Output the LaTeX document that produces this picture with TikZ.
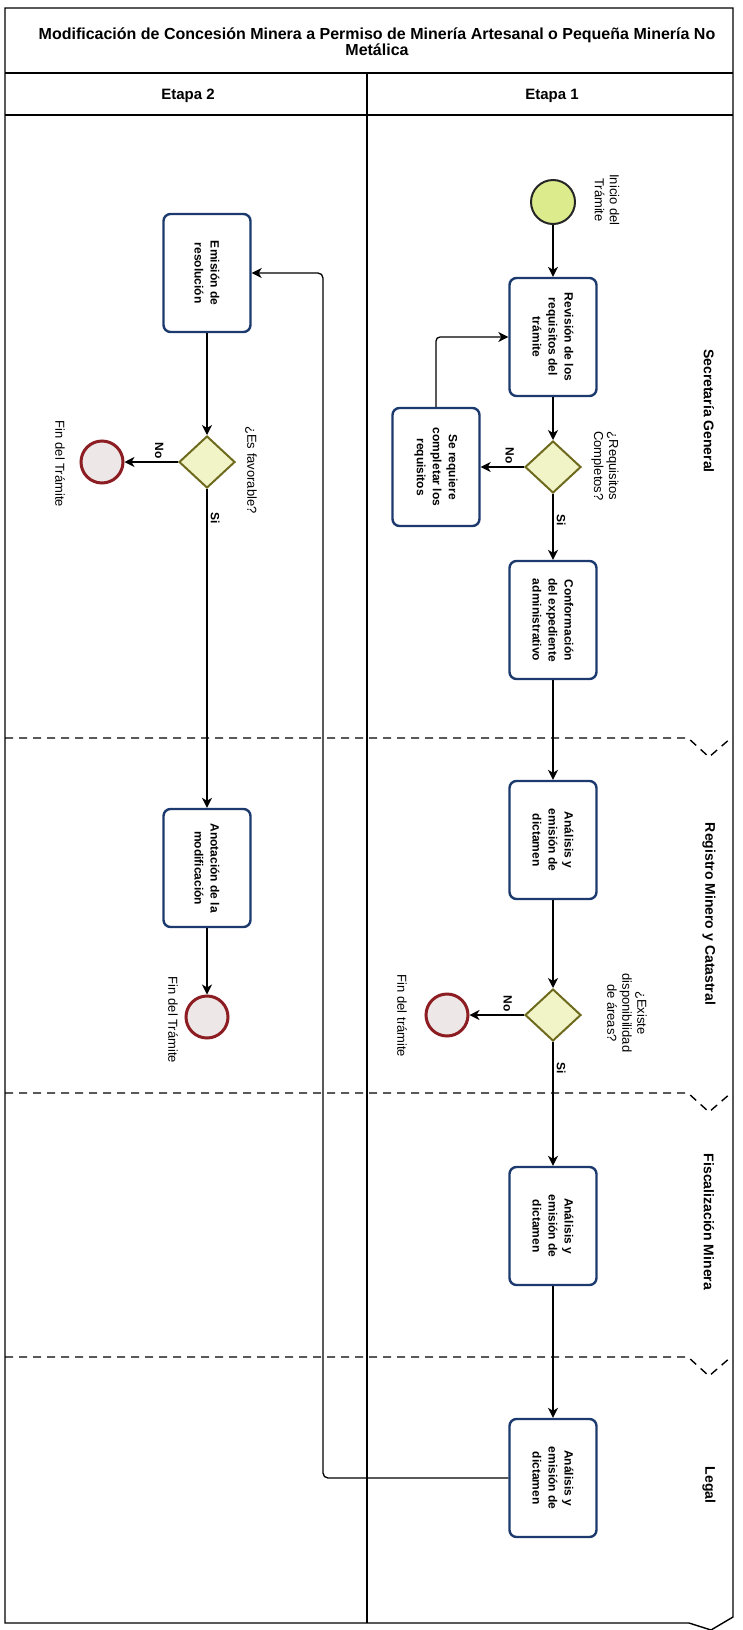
\documentclass[tikz,border=0pt]{standalone}
\usepackage{fontspec}
\setmainfont{Liberation Sans}
\usetikzlibrary{shapes.geometric, arrows.meta}
\definecolor{azultarea}{HTML}{1C3A6E}
\definecolor{rellenocompuerta}{HTML}{F1F4C6}
\definecolor{bordecompuerta}{HTML}{6E6A1E}
\definecolor{rellenoinicio}{HTML}{DCEB8C}
\definecolor{rellenofin}{HTML}{EEE7E7}
\definecolor{bordefin}{HTML}{8C1D22}
\tikzstyle{tarea} = [rectangle, draw=azultarea, line width=2.4pt, rounded corners=7pt, fill=white, rotate=-90, minimum width=118pt, minimum height=87pt, align=center, font=\bfseries\fontsize{12}{16}\selectfont]
\tikzstyle{compuerta} = [diamond, draw=bordecompuerta, line width=2pt, fill=rellenocompuerta, minimum width=56pt, minimum height=52pt, inner sep=0pt]
\tikzstyle{inicio} = [circle, draw=black!85, line width=2pt, fill=rellenoinicio, minimum size=44pt, inner sep=0pt]
\tikzstyle{fin} = [circle, draw=bordefin, line width=3pt, fill=rellenofin, minimum size=42pt, inner sep=0pt]
\tikzstyle{etiqueta} = [rotate=-90, align=center, font=\fontsize{13}{15}\selectfont, inner sep=1pt]
\tikzstyle{carril} = [rotate=-90, font=\bfseries\fontsize{14}{16}\selectfont]
\tikzstyle{rama} = [rotate=-90, font=\bfseries\fontsize{12}{14}\selectfont, inner sep=3pt]
\tikzstyle{arrow} = [line width=1.3pt, -{Stealth[length=10pt, width=10pt, inset=3pt]}]
\tikzstyle{marco} = [line width=1.4pt]
\tikzstyle{separador} = [line width=1.4pt, dash pattern=on 8pt off 6pt]
\begin{document}
\begin{tikzpicture}[x=1pt, y=-1pt]
\useasboundingbox (0,0) rectangle (742,1630);
% marco, encabezado y etapas
\draw [marco] (5,8) -- (733,8) -- (733,1617) -- (711,1630) -- (689,1623) -- (5,1623) -- cycle;
\draw [marco] (5,73) -- (733,73);
\draw [marco] (5,115) -- (733,115);
\draw [marco] (367,73) -- (367,1623);
\node [font=\bfseries\fontsize{16}{16}\selectfont, align=center] at (377,42) (titulo)
	{Modificación de Concesión Minera a Permiso de Minería Artesanal o Pequeña Minería No\\Metálica};
\node [font=\bfseries\fontsize{15}{16}\selectfont] at (188,96) (etapa_dos) {Etapa 2};
\node [font=\bfseries\fontsize{15}{16}\selectfont] at (552,96) (etapa_uno) {Etapa 1};
% carriles
\foreach \y in {738,1093,1357}
	\draw [separador] (5,\y) -- (688,\y) -- (709,\y+19) -- (731,\y);
\node [carril] at (709,411) (secretaria) {Secretaría General};
\node [carril] at (709,914) (registro) {Registro Minero y Catastral};
\node [carril] at (709,1222) (fiscalizacion) {Fiscalización Minera};
\node [carril] at (709,1485) (legal) {Legal};
% etapa 1
\node [inicio] at (553,202) (inicio_tramite) {};
\node [etiqueta] at (607,200) (lbl_inicio) {Inicio del\\Trámite};
\node [tarea] at (553,337) (revision) {Revisión de los\\requisitos del\\trámite};
\node [compuerta] at (553,467) (requisitos_ok) {};
\node [etiqueta] at (605,466) (lbl_requisitos) {¿Requisitos\\Completos?};
\node [tarea] at (436,467) (completar) {Se requiere\\completar los\\requisitos};
\node [tarea] at (553,620) (conformacion) {Conformación\\del expediente\\administrativo};
\node [tarea] at (553,840) (analisis_registro) {Análisis y\\emisión de\\dictamen};
\node [compuerta] at (553,1015) (areas_ok) {};
\node [etiqueta] at (627,1013) (lbl_areas) {¿Existe\\disponibilidad\\de áreas?};
\node [fin] at (447,1015) (fin_areas) {};
\node [etiqueta] at (402,1016) (lbl_fin_areas) {Fin del trámite};
\node [tarea] at (553,1226) (analisis_fiscal) {Análisis y\\emisión de\\dictamen};
\node [tarea] at (553,1478) (analisis_legal) {Análisis y\\emisión de\\dictamen};
% etapa 2
\node [tarea] at (207,273) (emision) {Emisión de\\resolución};
\node [compuerta] at (207,462) (favorable) {};
\node [etiqueta] at (251,470) (lbl_favorable) {¿Es favorable?};
\node [fin] at (102,462) (fin_favorable) {};
\node [etiqueta] at (60,464) (lbl_fin_favorable) {Fin del Trámite};
\node [tarea] at (207,868) (anotacion) {Anotación de la\\modificación};
\node [fin] at (207,1017) (fin_anotacion) {};
\node [etiqueta] at (173,1020) (lbl_fin_anotacion) {Fin del Trámite};
\coordinate (retorno) at (323,273);
% flujos
\draw [arrow] (inicio_tramite) -- (revision);
\draw [arrow] (revision) -- (requisitos_ok);
\draw [arrow] (requisitos_ok) -- node[rama, anchor=east, pos=0.33] {No} (completar);
\draw [arrow, rounded corners=4pt] (completar) |- (revision);
\draw [arrow] (requisitos_ok) -- node[rama, anchor=south, pos=0.4] {Si} (conformacion);
\draw [arrow] (conformacion) -- (analisis_registro);
\draw [arrow] (analisis_registro) -- (areas_ok);
\draw [arrow] (areas_ok) -- node[rama, anchor=east, pos=0.3] {No} (fin_areas);
\draw [arrow] (areas_ok) -- node[rama, anchor=south, pos=0.21] {Si} (analisis_fiscal);
\draw [arrow] (analisis_fiscal) -- (analisis_legal);
\draw [arrow, rounded corners=5pt] (analisis_legal) -| (retorno) -- (emision);
\draw [arrow] (emision) -- (favorable);
\draw [arrow] (favorable) -- node[rama, anchor=east, pos=0.35] {No} (fin_favorable);
\draw [arrow] (favorable) -- node[rama, anchor=south, pos=0.09] {Si} (anotacion);
\draw [arrow] (anotacion) -- (fin_anotacion);
\end{tikzpicture}
\end{document}
